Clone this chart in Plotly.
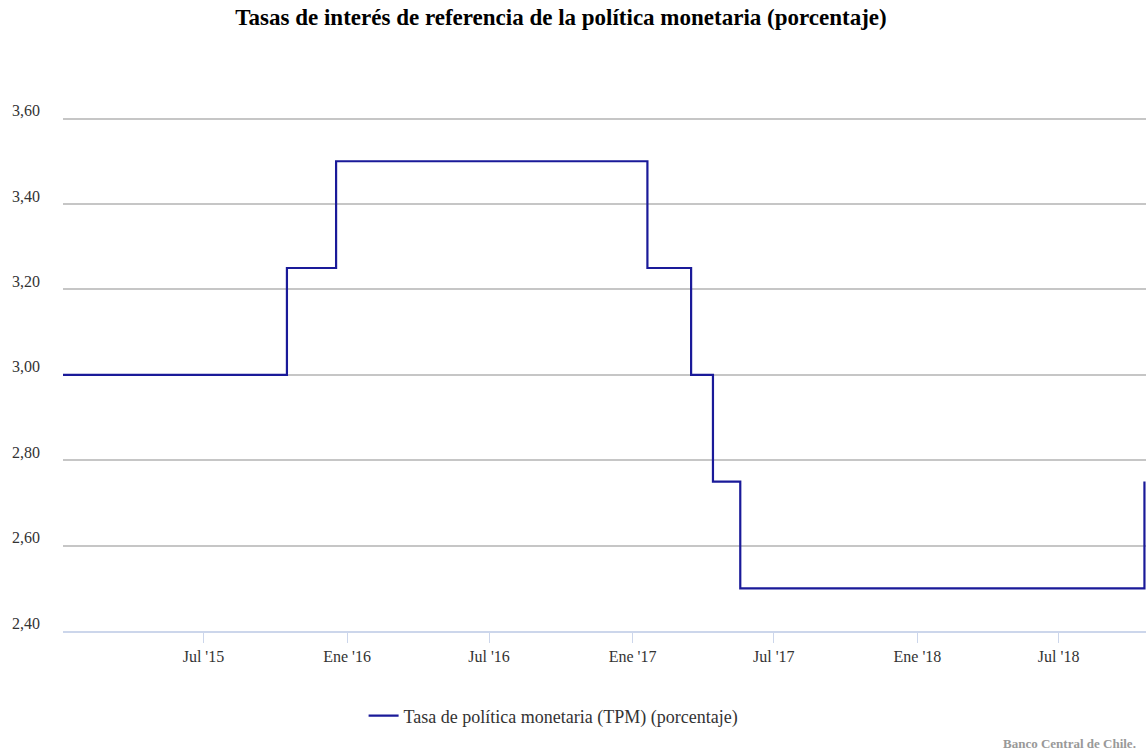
import plotly.graph_objects as go

# Monetary policy rate (TPM) change dates and the rate in force from each date
change_dates = ["2015-01-02", "2015-10-16", "2015-12-18", "2017-01-20",
                "2017-03-17", "2017-04-14", "2017-05-19", "2018-10-19"]
tpm_values = [3.00, 3.25, 3.50, 3.25, 3.00, 2.75, 2.50, 2.75]

tick_dates = ["2015-07-01", "2016-01-01", "2016-07-01", "2017-01-01",
              "2017-07-01", "2018-01-01", "2018-07-01"]
tick_labels = ["Jul '15", "Ene '16", "Jul '16", "Ene '17",
               "Jul '17", "Ene '18", "Jul '18"]
y_ticks = [2.40, 2.60, 2.80, 3.00, 3.20, 3.40, 3.60]

SERIF = "Liberation Serif, Times New Roman, serif"

fig = go.Figure()
fig.add_trace(go.Scatter(
    x=change_dates,
    y=tpm_values,
    mode="lines",
    line=dict(color="#1a1a99", width=2.2, shape="hv"),
    name="Tasa de política monetaria (TPM) (porcentaje)",
))

fig.update_layout(
    width=1146,
    height=750,
    margin=dict(l=63, r=0, t=116, b=119),
    paper_bgcolor="white",
    plot_bgcolor="white",
    separators=",.",
    font=dict(family=SERIF, color="#333333", size=16),
    title=dict(
        text="<b>Tasas de interés de referencia de la política monetaria (porcentaje)</b>",
        x=561 / 1146,
        xref="container",
        xanchor="center",
        y=1 - 17 / 750,
        yanchor="middle",
        font=dict(family=SERIF, size=23, color="#000000"),
    ),
    showlegend=True,
    legend=dict(
        orientation="h",
        x=0.453,
        xanchor="center",
        y=-0.165,
        yanchor="middle",
        font=dict(family=SERIF, size=18, color="#333333"),
        itemwidth=30,
    ),
    xaxis=dict(
        type="date",
        range=["2015-01-02", "2018-10-21"],
        tickvals=tick_dates,
        ticktext=tick_labels,
        showgrid=False,
        showline=True,
        linecolor="#ccd6eb",
        linewidth=2,
        ticks="outside",
        ticklen=10,
        tickwidth=1,
        tickcolor="#ccd6eb",
        tickfont=dict(family=SERIF, size=16, color="#333333"),
        zeroline=False,
    ),
    yaxis=dict(
        range=[2.40, 3.606],
        tickvals=y_ticks,
        tickformat=".2f",
        showgrid=True,
        gridcolor="#c6c6c6",
        gridwidth=2,
        zeroline=False,
        showline=False,
        ticks="",
        ticklabelstandoff=22,
        ticklabelshift=-8,
        tickfont=dict(family=SERIF, size=16, color="#333333"),
    ),
)

fig.add_annotation(
    text="<b>Banco Central de Chile.</b>",
    xref="paper", yref="paper",
    x=1.0, xanchor="right",
    y=-0.218, yanchor="middle",
    xshift=-8,
    showarrow=False,
    font=dict(family=SERIF, size=13, color="#999999"),
)

fig.write_html("out.html")
